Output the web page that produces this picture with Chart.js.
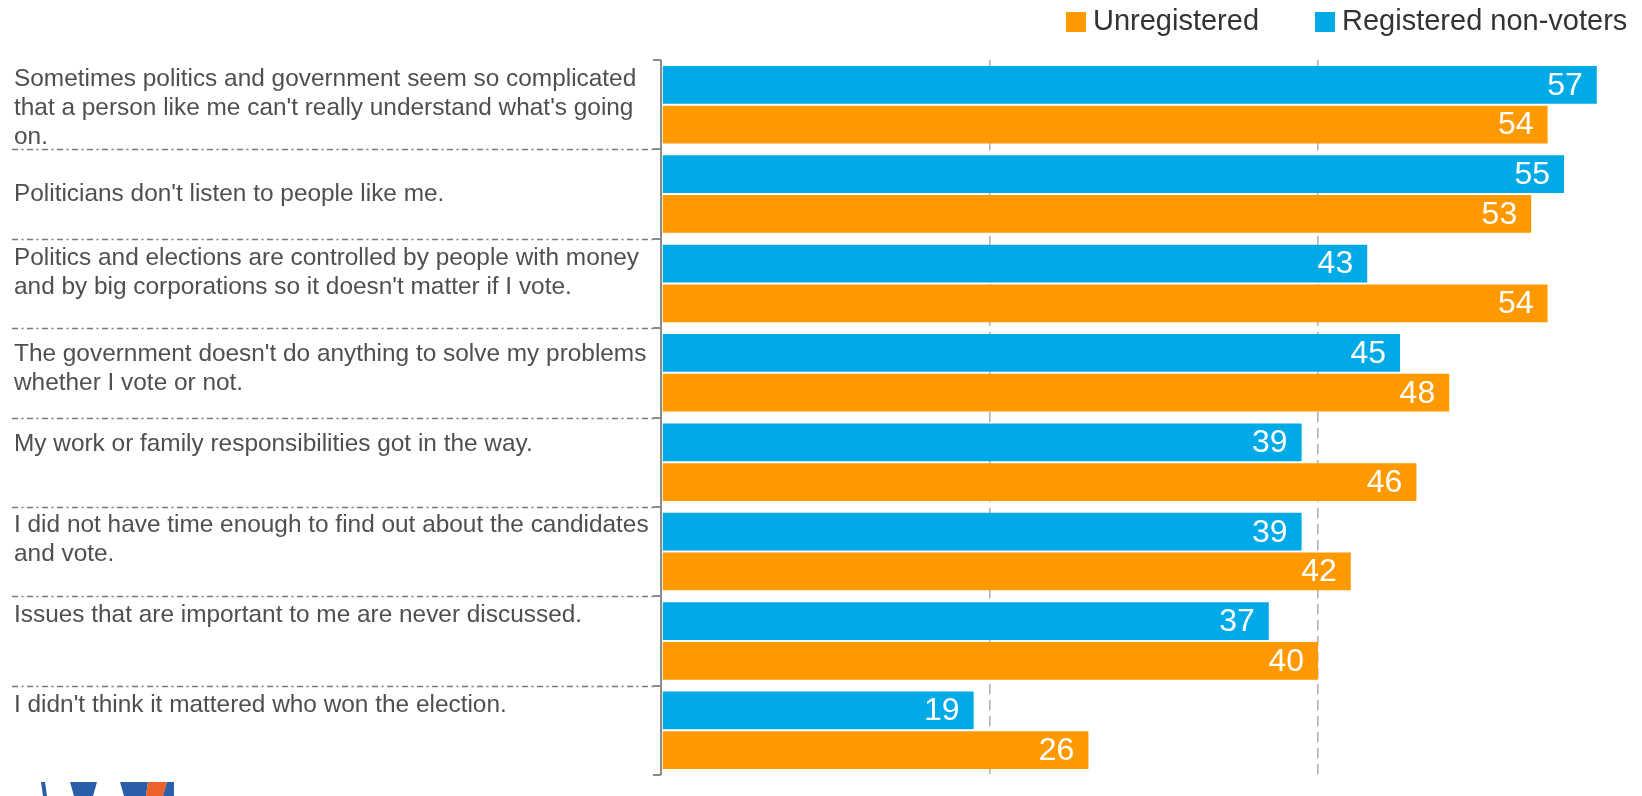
<!DOCTYPE html>
<html>
<head>
<meta charset="utf-8">
<script src="https://cdn.jsdelivr.net/npm/chart.js@4/dist/chart.umd.min.js"></script>
<style>
  html, body { margin: 0; padding: 0; background: #fff; overflow: hidden; }
  #wrap { position: relative; width: 1650px; height: 796px; }
</style>
</head>
<body>
<div id="wrap"><canvas id="chart"></canvas></div>
<script>
// 設問（左側のラベル、行ごとに分割）
const categories = [
    ["Sometimes politics and government seem so complicated", "that a person like me can't really understand what's going", "on."],
    ["Politicians don't listen to people like me."],
    ["Politics and elections are controlled by people with money", "and by big corporations so it doesn't matter if I vote."],
    ["The government doesn't do anything to solve my problems", "whether I vote or not."],
    ["My work or family responsibilities got in the way."],
    ["I did not have time enough to find out about the candidates", "and vote."],
    ["Issues that are important to me are never discussed."],
    ["I didn't think it mattered who won the election."]
];

// 系列の値 (%)
const registeredNonVoters = [57, 55, 43, 45, 39, 39, 37, 19];
const unregistered = [54, 53, 54, 48, 46, 42, 40, 26];

// 横軸の目盛り
const xTicks = [0, 20, 40, 60];

const BLUE = "rgb(0, 170, 231)";
const ORANGE = "rgb(255, 153, 0)";
const FONT = "'Liberation Sans', Arial, sans-serif";

// ラベルの1行目の位置（カテゴリ上端からの距離）
const labelNudge = [19, 45, 20, 26, 27, 18, 19, 20];

// 左側の設問・区切り線・軸・凡例・数値を描くプラグイン
const decorPlugin = {
    id: "decor",
    afterDatasetsDraw(chart) {
        const ctx = chart.ctx;
        const area = chart.chartArea;
        const yScale = chart.scales.y;
        const n = categories.length;
        const catH = (area.bottom - area.top) / n;

        ctx.save();

        // 区切り線（一点鎖線）
        ctx.strokeStyle = "#7a7a7a";
        ctx.lineWidth = 1.6;
        ctx.setLineDash([6, 3.5, 2, 3.5]);
        for (let i = 1; i < n; i++) {
            const y = Math.round(yScale.getPixelForValue(i) - catH / 2) + 0.5;
            ctx.beginPath();
            ctx.moveTo(12, y);
            ctx.lineTo(area.left - 8, y);
            ctx.stroke();
        }
        ctx.setLineDash([]);

        // 縦軸と目盛り
        ctx.strokeStyle = "#8c8c8c";
        ctx.lineWidth = 2;
        ctx.beginPath();
        ctx.moveTo(area.left - 1, area.top);
        ctx.lineTo(area.left - 1, area.bottom);
        for (let i = 0; i <= n; i++) {
            const y = Math.round(area.top + catH * i);
            ctx.moveTo(area.left - 9, y);
            ctx.lineTo(area.left - 1, y);
        }
        ctx.stroke();

        // 設問ラベル
        ctx.fillStyle = "#4f4f4f";
        ctx.font = "24.4px " + FONT;
        ctx.textAlign = "left";
        ctx.textBaseline = "middle";
        categories.forEach((lines, i) => {
            const top = yScale.getPixelForValue(i) - catH / 2;
            lines.forEach((line, j) => {
                ctx.fillText(line, 14, top + labelNudge[i] + j * 29);
            });
        });

        // バー内の数値
        ctx.fillStyle = "#ffffff";
        ctx.font = "32px " + FONT;
        ctx.textAlign = "right";
        chart.data.datasets.forEach((ds, di) => {
            const meta = chart.getDatasetMeta(di);
            meta.data.forEach((bar, i) => {
                ctx.fillText(String(ds.data[i]), bar.x - 14, bar.y + 1);
            });
        });

        // 凡例（Unregistered を先に表示）
        ctx.font = "29px " + FONT;
        ctx.textAlign = "left";
        let x = 1066;
        [1, 0].forEach(di => {
            const ds = chart.data.datasets[di];
            ctx.fillStyle = ds.backgroundColor;
            ctx.fillRect(x, 12, 20, 20);
            ctx.fillStyle = "#333333";
            ctx.fillText(ds.label, x + 27, 22);
            x += 27 + ctx.measureText(ds.label).width + 56;
        });

        // 左下のロゴの一部
        const logo = [
            ["#2b5ea8", [[41, 782], [45, 782], [47, 796], [43, 796]]],
            ["#2b5ea8", [[70, 782], [97, 782], [93, 796], [74, 796]]],
            ["#2b5ea8", [[120, 782], [148, 782], [146, 796], [124, 796]]],
            ["#ef612b", [[148, 782], [167, 782], [163, 796], [146, 796]]],
            ["#2b5ea8", [[167, 782], [174, 782], [174, 796], [163, 796]]]
        ];
        logo.forEach(([color, pts]) => {
            ctx.fillStyle = color;
            ctx.beginPath();
            pts.forEach(([px, py], k) => k ? ctx.lineTo(px, py) : ctx.moveTo(px, py));
            ctx.closePath();
            ctx.fill();
        });

        ctx.restore();
    }
};

new Chart(document.getElementById("chart"), {
    type: "bar",
    data: {
        labels: categories,
        datasets: [
            {
                label: "Registered non-voters",
                data: registeredNonVoters,
                backgroundColor: BLUE,
                borderWidth: 0,
                categoryPercentage: 0.89,
                barPercentage: 0.95
            },
            {
                label: "Unregistered",
                data: unregistered,
                backgroundColor: ORANGE,
                borderWidth: 0,
                categoryPercentage: 0.89,
                barPercentage: 0.95
            }
        ]
    },
    options: {
        indexAxis: "y",
        responsive: true,
        maintainAspectRatio: false,
        animation: false,
        layout: {
            padding: { left: 662, top: 60, right: 4, bottom: 21 }
        },
        plugins: {
            legend: { display: false },
            tooltip: { enabled: false }
        },
        scales: {
            x: {
                min: xTicks[0],
                max: xTicks[xTicks.length - 1],
                afterBuildTicks: scale => {
                    scale.ticks = xTicks.map(v => ({ value: v }));
                },
                ticks: { display: false },
                grid: {
                    drawTicks: false,
                    lineWidth: 1.6,
                    color: c => (c.tick && (c.tick.value === 20 || c.tick.value === 40)) ? "#b3b3b3" : "rgba(0,0,0,0)"
                },
                border: { display: false, dash: [10, 6] }
            },
            y: {
                display: false
            }
        }
    },
    plugins: [decorPlugin]
});
</script>
</body>
</html>
